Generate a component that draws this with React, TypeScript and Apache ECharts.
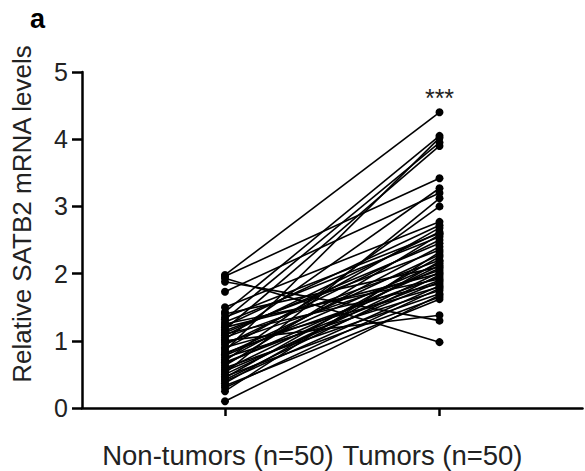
import React, { useEffect, useRef } from "react";
import * as echarts from "echarts";

const categories = ["", " ", "Non-tumors (n=50)", "  ", "   ", "Tumors (n=50)", "    ", "     "];
const nonTumorIndex = 2;
const tumorIndex = 5;
const yTicks = [0, 1, 2, 3, 4, 5];

const nonTumors = [
  1.98, 1.96, 1.93, 1.88, 1.73, 1.5, 1.43, 1.4, 1.35, 1.32,
  1.28, 1.25, 1.22, 1.2, 1.17, 1.15, 1.12, 1.1, 1.08, 1.05,
  1.02, 1.0, 0.97, 0.94, 0.9, 0.88, 0.85, 0.82, 0.8, 0.78,
  0.75, 0.72, 0.7, 0.68, 0.66, 0.63, 0.6, 0.57, 0.55, 0.52,
  0.5, 0.47, 0.45, 0.42, 0.4, 0.37, 0.33, 0.3, 0.25, 0.1,
];
const tumors = [
  4.4, 3.42, 0.98, 1.3, 3.2, 2.77, 4.05, 2.1, 2.6, 3.95,
  2.55, 1.92, 2.72, 2.0, 3.9, 2.35, 2.45, 1.85, 2.62, 2.2,
  3.27, 1.38, 2.05, 2.5, 1.8, 2.68, 4.02, 1.95, 2.28, 2.15,
  1.75, 2.4, 3.0, 1.9, 2.08, 2.58, 1.7, 2.12, 1.88, 3.12,
  2.02, 1.65, 2.25, 1.98, 1.82, 2.18, 1.62, 1.78, 2.32, 1.68,
];

const FONT = "Liberation Sans, Arial, sans-serif";

export default function App() {
  const ref = useRef<HTMLDivElement>(null);
  useEffect(() => {
    if (!ref.current) return;
    const chart = echarts.init(ref.current, null, { renderer: "svg" });
    const maxT = Math.max(...tumors);
    const series = nonTumors.map((n, i) => ({
      type: "line",
      data: [
        [nonTumorIndex, n],
        {
          value: [tumorIndex, tumors[i]],
          label: tumors[i] === maxT
            ? { show: true, position: "top", formatter: "***", fontSize: 25, color: "#222", fontFamily: FONT, distance: -2 }
            : { show: false },
        },
      ],
      symbol: "circle",
      symbolSize: 8,
      itemStyle: { color: "#000" },
      lineStyle: { color: "#000", width: 1.6 },
      silent: true,
    }));
    chart.setOption({
      animation: false,
      grid: { left: 82, right: 2.5, top: 72, bottom: 63 },
      xAxis: {
        type: "category",
        data: categories,
        boundaryGap: false,
        axisLine: { lineStyle: { color: "#000", width: 2.5 } },
        axisTick: {
          length: 8,
          lineStyle: { color: "#000", width: 2.5 },
          interval: (idx: number) => idx === nonTumorIndex || idx === tumorIndex,
        },
        axisLabel: {
          interval: (idx: number) => idx === nonTumorIndex || idx === tumorIndex,
          fontSize: 27.5,
          color: "#222",
          fontFamily: FONT,
          margin: 33,
          padding: [0, 14, 0, 0],
          hideOverlap: false,
        },
        splitLine: { show: false },
      },
      yAxis: {
        type: "value",
        min: yTicks[0],
        max: yTicks[yTicks.length - 1],
        interval: 1,
        axisLine: { show: true, lineStyle: { color: "#000", width: 2.5 } },
        axisTick: { show: true, length: 10, lineStyle: { color: "#000", width: 2.5 } },
        axisLabel: { fontSize: 25, color: "#222", fontFamily: FONT, margin: 14 },
        splitLine: { show: false },
      },
      graphic: [
        {
          type: "text",
          x: 22,
          y: 214,
          rotation: Math.PI / 2,
          style: {
            text: "Relative SATB2 mRNA levels",
            fontSize: 26,
            fill: "#222",
            fontFamily: FONT,
            align: "center",
            verticalAlign: "middle",
          },
        },
        {
          type: "text",
          x: 30,
          y: 5,
          style: {
            text: "a",
            fontSize: 27,
            fontWeight: "bold",
            fill: "#000",
            fontFamily: FONT,
          },
        },
      ],
      series,
    });
    return () => chart.dispose();
  }, []);
  return <div ref={ref} style={{ width: 585, height: 471, position: "absolute", left: 0, top: 0 }} />;
}
